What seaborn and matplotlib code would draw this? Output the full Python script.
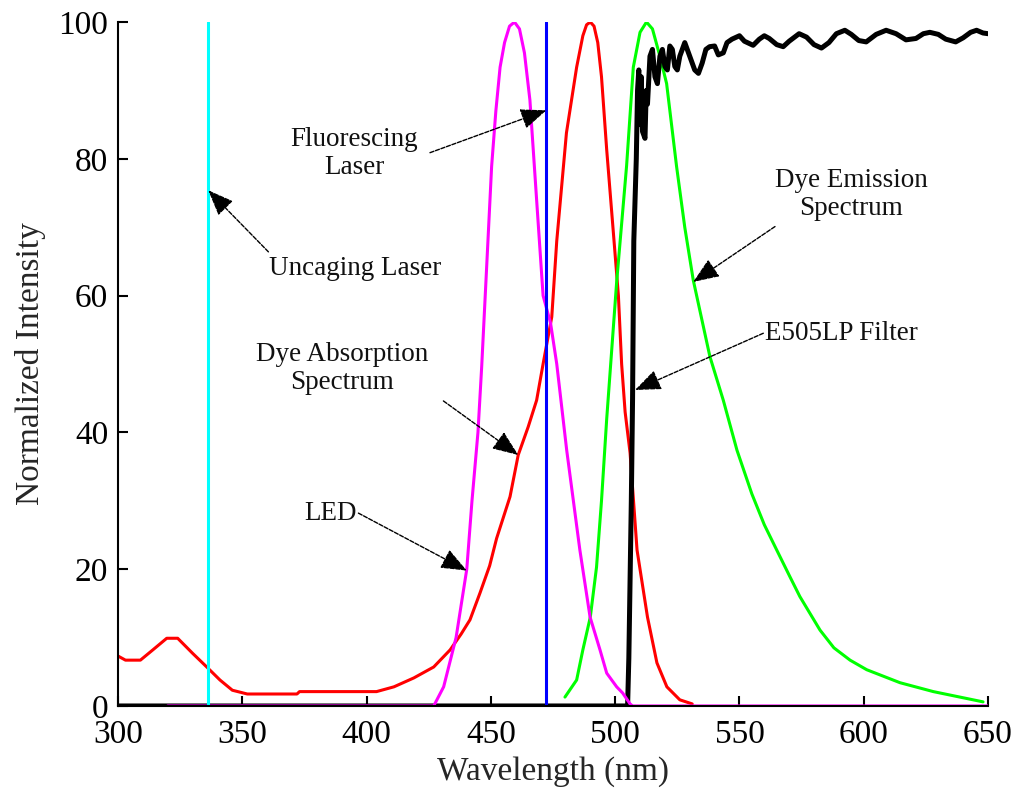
#%% Imports

import numpy as np
import pandas as pd
import matplotlib.pyplot as plt
import seaborn as sns

#%% Spectra (wavelength nm, normalized intensity)

absorb_nm = [300, 303, 309, 314, 319.6, 324, 330, 335.7, 341, 346, 352, 372, 373,
             404, 411, 419, 427, 433.6, 438, 441.6, 445.6, 449.5, 452.3, 457.7, 461,
             465, 468.4, 471, 474.5, 476.5, 480.4, 484.5, 487, 488.5, 490, 491.5, 493,
             494.5, 496.6, 499.3, 501.3, 502.6, 504, 506, 508.8, 513, 516.8, 520.8,
             526, 531]
absorb_val = [7.3, 6.7, 6.7, 8.2, 9.9, 9.9, 7.7, 5.7, 3.8, 2.3, 1.75, 1.75, 2.1,
              2.1, 2.8, 4.1, 5.7, 8.2, 10.5, 12.6, 16.5, 20.5, 24.5, 30.6, 36.7,
              40.8, 44.7, 50, 56.9, 68, 83.8, 93.4, 98, 99.6, 100, 99.4, 97,
              92, 81.3, 69.1, 60, 50, 43, 37, 22.8, 13, 6.3, 2.8,
              0.9, 0.3]

led_nm = [320, 427, 431, 436, 440.3, 442.4, 444.8, 446.3, 448.3, 450.3, 452, 453.7,
          455.5, 457.5, 459.5, 461.5, 463.5, 465.7, 468.4, 471, 474, 476.5, 480.5,
          485.8, 489.9, 493.9, 496.6, 500.6, 503, 506, 507, 650]
led_val = [0, 0, 2.8, 10, 20, 30, 40, 49.6, 64.2, 78.9, 87, 93.4,
           97, 99.4, 100, 99, 95.5, 88.6, 74, 60, 56, 50, 37.4,
           22.8, 13, 8.2, 4.8, 2.8, 1.9, 0.3, 0, 0]

emission_nm = [479.8, 484.5, 487, 490, 492.5, 494.5, 496.6, 498.6, 500.6, 504.6, 507.3,
               510, 512.6, 515, 518, 520.7, 524.7, 528, 531.4, 538.1, 543.5, 549,
               555, 560, 565, 570.3, 574.3, 582.4, 588, 594.5, 601.2, 614.6, 628,
               640, 648]
emission_val = [1.3, 3.8, 8.2, 13, 20.3, 30, 42, 52, 62, 79, 93.4,
                98.5, 100, 99, 95, 91, 78.9, 70, 62.3, 51.1, 44.7, 37.4,
                31, 26.5, 22.8, 18.9, 16, 11.1, 8.5, 6.7, 5.3, 3.4, 2.1,
                1.2, 0.6]

filter_nm = [300, 505, 505.5, 506.5, 507, 507.5, 508.5, 509, 509.5, 510, 510.5, 511,
             512, 512.5, 513, 514, 515, 516, 517, 518, 519, 520, 521, 522, 523,
             524, 525, 526, 528, 530, 532, 533.5, 535, 536.5, 538, 540, 541.5,
             543.5, 545, 547, 550, 552, 555.5, 558, 560, 562, 565, 567.6, 570,
             574, 577, 580, 583, 586, 589, 592.4, 595, 598, 601, 605, 609, 613,
             617, 621, 624, 626.6, 630, 633, 637, 640, 643, 645.4, 648, 650]
filter_val = [0, 0, 7, 30, 45, 68, 80, 90, 93, 85, 92, 84,
              83, 90, 88, 95, 96, 92, 91, 95, 96, 93.5, 93, 96.5, 96,
              93.5, 93, 95, 97, 95, 93, 92.5, 94, 96, 96.4, 96.5, 95.2,
              95.5, 97, 97.5, 98, 97.2, 96.6, 97.5, 98, 97.6, 96.7, 96.4, 97.2,
              98.3, 97.8, 96.7, 96.2, 97, 98.3, 98.8, 98.2, 97.3, 97.1, 98.2, 98.8, 98.3,
              97.4, 97.6, 98.3, 98.5, 98.2, 97.5, 97.1, 97.7, 98.5, 98.8, 98.4, 98.3]

uncaging_nm = 336.3
fluor_nm = 472.3

#%% Labels: text, text centre, arrow tail, arrow tip

labels = ['Uncaging Laser', 'Fluorescing\nLaser', 'Dye Emission\nSpectrum',
          'E505LP Filter', 'Dye Absorption\nSpectrum', 'LED']
label_xy = [(395.5, 64.0), (395.0, 80.8), (595.0, 74.8),
            (591.0, 54.4), (390.3, 49.3), (385.3, 28.2)]
tail_xy = [(360.5, 66.4), (425.5, 80.9), (564.3, 70.1),
           (559.6, 54.5), (430.9, 44.6), (396.7, 28.2)]
tip_xy = [(336.3, 75.4), (472.3, 87.1), (531.4, 62.0),
          (508.0, 46.2), (461.0, 36.7), (440.3, 19.8)]

#%% Plot

sns.set_theme(style='ticks')
plt.rcParams['font.family'] = ['Liberation Serif', 'DejaVu Serif']

fig, ax = plt.subplots(figsize=(10.21, 7.88), dpi=100)
fig.subplots_adjust(left=0.1156, right=0.9677, bottom=0.1041, top=0.972)

lw = 2.2
sns.lineplot(x=absorb_nm, y=absorb_val, ax=ax, color='#ff0000', lw=lw,
             estimator=None, sort=False)
sns.lineplot(x=emission_nm, y=emission_val, ax=ax, color='#00ff00', lw=lw,
             estimator=None, sort=False)
sns.lineplot(x=filter_nm, y=filter_val, ax=ax, color='black', lw=3.6,
             estimator=None, sort=False)
sns.lineplot(x=led_nm, y=led_val, ax=ax, color='#ff00ff', lw=lw,
             estimator=None, sort=False)
sns.lineplot(x=[uncaging_nm, uncaging_nm], y=[0, 100], ax=ax, color='#00ffff',
             lw=lw, estimator=None, sort=False)
sns.lineplot(x=[fluor_nm, fluor_nm], y=[0, 100], ax=ax, color='#0000ff',
             lw=lw, estimator=None, sort=False)

for txt, pos, tail, tip in zip(labels, label_xy, tail_xy, tip_xy):
    ax.text(pos[0], pos[1], txt, ha='center', va='center', fontsize=19.5,
            linespacing=1.15, color='#111111')
    ax.annotate('', xy=tip, xytext=tail,
                arrowprops=dict(arrowstyle='-|>,head_length=0.8,head_width=0.32',
                                mutation_scale=20, color='black', lw=1,
                                linestyle=(0, (3, 1.2)), shrinkA=0, shrinkB=0))

ax.set_xlim(300, 650)
ax.set_ylim(0, 100)
ax.set_xticks(np.arange(300, 651, 50))
ax.set_yticks(np.arange(0, 101, 20))
ax.tick_params(direction='in', length=7, width=1.5, labelsize=24,
               colors='black')
ax.tick_params(axis='x', pad=10)
ax.tick_params(axis='y', pad=7)
ax.set_xlabel('Wavelength (nm)', fontsize=24, labelpad=4)
ax.set_ylabel('Normalized Intensity', fontsize=24, labelpad=9)
sns.despine(ax=ax)
for s in ['left', 'bottom']:
    ax.spines[s].set_linewidth(1.5)
    ax.spines[s].set_color('black')

fig.savefig('out.png', dpi=100)
